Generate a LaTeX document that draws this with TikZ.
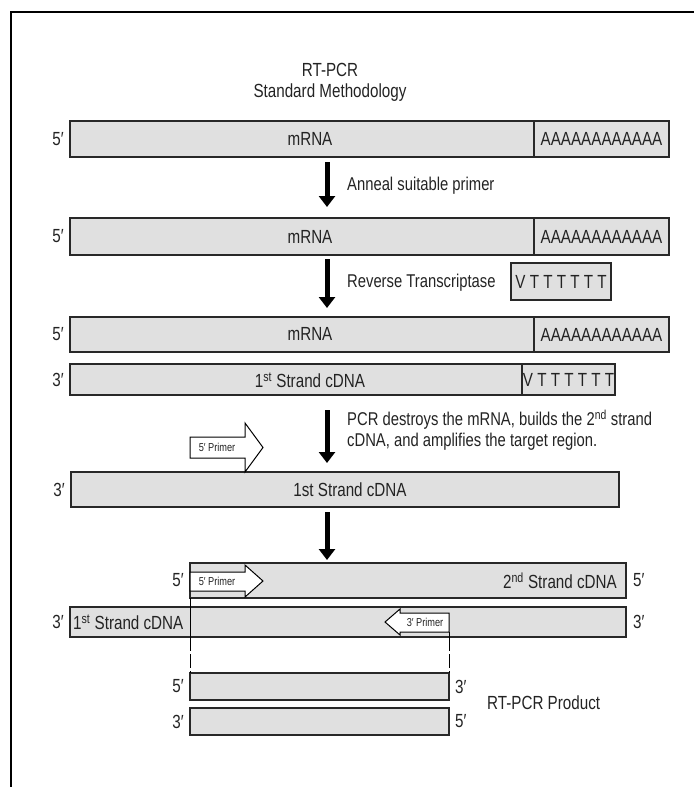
\documentclass[tikz,border=0pt]{standalone}
\usepackage{fontspec}
\setmainfont{Liberation Sans}[FakeStretch=0.8]
\usepackage{xcolor}
\usepackage{tikz}
\usetikzlibrary{positioning,arrows.meta}
\definecolor{strandgray}{RGB}{224, 224, 224}
\definecolor{edgegray}{RGB}{40, 40, 40}
\definecolor{inkgray}{RGB}{35, 35, 35}

\tikzset{
  strand/.style={rectangle, draw=edgegray, line width=1.8pt, fill=strandgray,
    inner sep=0pt, outer sep=0pt, anchor=north west, text=inkgray,
    font=\fontsize{19}{22}\selectfont},
  lbl/.style={text=inkgray, inner sep=0pt, font=\fontsize{19}{22}\selectfont},
  note/.style={lbl, anchor=west, font=\fontsize{18.5}{22}\selectfont},
  tinylbl/.style={text=inkgray, inner sep=0pt, font=\fontsize{11.5}{13}\selectfont},
  stepdown/.style={draw=black, line width=5pt, -{Triangle[length=11pt,width=16pt]}},
  primer/.style={draw=black, line width=1pt, fill=white},
  cut/.style={draw=black, line width=1pt},
}

\begin{document}
\begin{tikzpicture}[x=1pt, y=-1pt]
  \useasboundingbox (0,0) rectangle (694,787);
  \draw[line width=1.6pt] (11,787) -- (11,12) -- (694,12);

  \node[lbl] (title) at (330,70) {RT-PCR};
  \node[lbl] (subtitle) at (330,93) {Standard Methodology};
  \coordinate (spine) at (327,0);

  % mRNA with poly-A tail
  \node[strand, minimum width=464, minimum height=36] (mrna1) at (70,121) {};
  \node[strand, right=0pt of mrna1, minimum width=135, minimum height=36] (polya1) {AAAAAAAAAAAA};
  \node[lbl] at (310,139) {mRNA};
  \node[lbl, left=6pt of mrna1] {5′};

  % primer annealed
  \node[strand, minimum width=464, minimum height=37] (mrna2) at (70,218) {};
  \node[strand, right=0pt of mrna2, minimum width=135, minimum height=37] (polya2) {AAAAAAAAAAAA};
  \node[lbl] at (310,237) {mRNA};
  \node[lbl, left=6pt of mrna2] {5′};

  \draw[stepdown, shorten <=5pt, shorten >=11pt] (mrna1.south -| spine) -- (mrna2.north -| spine);
  \node[note] (anneal) at (347,186) {Anneal suitable primer};

  % first strand synthesis
  \node[strand, minimum width=464, minimum height=35] (mrna3) at (70,317) {};
  \node[strand, right=0pt of mrna3, minimum width=135, minimum height=35] (polya3) {AAAAAAAAAAAA};
  \node[lbl] at (310,334) {mRNA};
  \node[lbl, left=6pt of mrna3] {5′};

  \draw[stepdown, shorten <=4pt, shorten >=9pt] (mrna2.south -| spine) -- (mrna3.north -| spine);
  \node[note] (revtr) at (347,283) {Reverse Transcriptase};
  \node[strand, minimum width=100, minimum height=37] (oligo) at (511,263) {V T T T T T T};

  \node[strand, minimum width=452, minimum height=31] (cdna1) at (70,364) {};
  \node[strand, right=0pt of cdna1, minimum width=93, minimum height=31] (oligo1) {V T T T T T T};
  \node[lbl] at (310,380) {1\textsuperscript{st} Strand cDNA};
  \node[lbl, left=6pt of cdna1] {3′};

  % template for PCR
  \node[strand, minimum width=548, minimum height=35] (cdnaA) at (71,472) {};
  \node[lbl] at (350,490) {1st Strand cDNA};
  \node[lbl, left=6pt of cdnaA] {3′};

  \draw[stepdown, shorten <=15pt, shorten >=9pt] (cdna1.south -| spine) -- (cdnaA.north -| spine);
  \node[note] (pcr1) at (347,420) {PCR destroys the mRNA, builds the 2\textsuperscript{nd} strand};
  \node[note] (pcr2) at (347,442) {cDNA, and amplifies the target region.};

  \draw[primer] (190,437) -- (245,437) -- (245,423) -- (263,447.5) -- (245,472)
    -- (245,458) -- (190,458) -- cycle;
  \node[tinylbl] (fwd1) at (217,447.5) {5′ Primer};

  % both strands with primers
  \node[strand, minimum width=436, minimum height=35] (cdna2) at (190,563) {};
  \node[lbl, anchor=east] at (617,581) {2\textsuperscript{nd} Strand cDNA};
  \node[lbl, left=6pt of cdna2] {5′};
  \node[lbl, right=7pt of cdna2] {5′};
  \draw[primer] (190,572) -- (245,572) -- (245,565) -- (263,581) -- (245,597)
    -- (245,591) -- (190,591) -- cycle;
  \node[tinylbl] (fwd2) at (217,581.5) {5′ Primer};

  \draw[stepdown, shorten <=5pt, shorten >=3pt] (cdnaA.south -| spine) -- (cdna2.north -| spine);

  \node[strand, minimum width=556, minimum height=30] (cdnaB) at (70,607) {};
  \node[lbl, anchor=west] at (73,622) {1\textsuperscript{st} Strand cDNA};
  \node[lbl, left=6pt of cdnaB] {3′};
  \node[lbl, right=7pt of cdnaB] {3′};
  \draw[primer] (449,613) -- (400,613) -- (400,609) -- (385,622) -- (400,635)
    -- (400,632) -- (449,632) -- cycle;
  \node[tinylbl] (rev1) at (425,622.5) {3′ Primer};

  % product
  \node[strand, minimum width=259, minimum height=27] (prod5) at (190,673) {};
  \node[strand, minimum width=259, minimum height=27] (prod3) at (190,708) {};
  \node[lbl, left=6pt of prod5] {5′};
  \node[lbl, right=6pt of prod5] {3′};
  \node[lbl, left=6pt of prod3] {3′};
  \node[lbl, right=6pt of prod3] {5′};
  \node[lbl, anchor=west] (product) at (487,703) {RT-PCR Product};

  \draw[cut] (cdna2.south west) -- (cdnaB.south -| cdna2.west);
  \draw[cut, dash pattern=on 14pt off 3pt] (cdnaB.south -| cdna2.west) -- (prod5.north west);
  \draw[cut] (449,632) -- (cdnaB.south -| prod5.east);
  \draw[cut, dash pattern=on 14pt off 3pt] (cdnaB.south -| prod5.east) -- (prod5.north east);
\end{tikzpicture}
\end{document}
